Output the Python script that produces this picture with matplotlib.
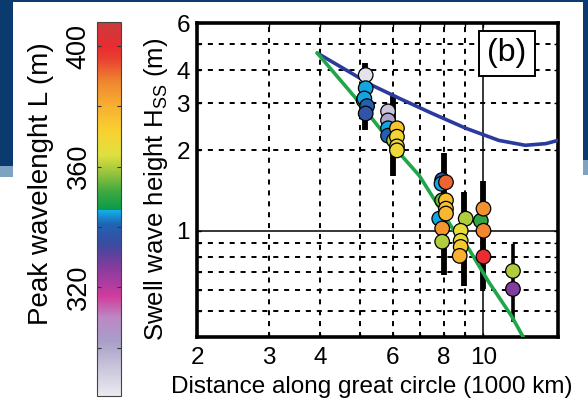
import numpy as np
import matplotlib
matplotlib.use('Agg')
import matplotlib.pyplot as plt
from matplotlib.colors import LinearSegmentedColormap, Normalize
from matplotlib.cm import ScalarMappable
from matplotlib.patches import Rectangle
from matplotlib.ticker import FixedLocator, FixedFormatter, NullFormatter

plt.rcParams['font.family'] = ['Liberation Sans', 'DejaVu Sans']
plt.rcParams['mathtext.fontset'] = 'custom'
plt.rcParams['mathtext.rm'] = 'Liberation Sans'
plt.rcParams['mathtext.it'] = 'Liberation Sans:italic'

# ---------------- data ----------------
# error bars per cluster (distance in 1000 km, Hss range in m)
bar_x = [5.15, 6.0, 8.0, 8.95, 10.0, 11.8]
bar_low = [2.38, 1.6, 0.68, 0.62, 0.605, 0.455]
bar_high = [4.25, 3.2, 1.95, 1.40, 1.53, 0.89]

# individual observations: distance, Hss, peak wavelength L
pt_x = [5.1, 5.16, 5.16, 5.12, 5.2, 5.16,
        5.85, 5.85, 5.85, 5.85, 6.05, 6.15, 6.15, 6.15, 6.15,
        7.93, 7.9, 8.1, 7.93, 8.1, 8.1, 7.8, 8.1, 7.93, 7.93,
        9.05, 8.8, 8.8, 8.8, 8.75,
        9.85, 10.0, 10.0, 10.0,
        11.8, 11.8]
pt_y = [3.08, 3.83, 3.42, 3.13, 2.93, 2.75,
        2.80, 2.59, 2.42, 2.27, 2.18, 2.42, 2.25, 2.07, 2.0,
        1.55, 1.50, 1.52, 1.30, 1.30, 1.21, 1.11, 1.16, 1.02, 0.91,
        1.11, 1.0, 0.917, 0.87, 0.805,
        1.09, 1.21, 1.0, 0.80,
        0.707, 0.605]
pt_L = [358, 286, 345, 345, 340, 337,
        293, 300, 345, 340, 360, 375, 370, 367, 368,
        338, 345, 392, 355, 376, 376, 345, 378, 385, 360,
        360, 366, 366, 374, 380,
        350, 386, 388, 400,
        360, 327]

# model curves
blue_x = [3.93, 4.85, 5.34, 6.24, 7.5, 9.06, 10.9, 12.65, 14.2, 15.2]
blue_y = [4.63, 3.83, 3.51, 3.13, 2.75, 2.42, 2.18, 2.09, 2.12, 2.18]
green_x = [3.93, 4.93, 6.24, 6.97, 8.62, 9.21, 10.3, 11.7, 12.5]
green_y = [4.63, 3.08, 1.95, 1.61, 0.96, 0.855, 0.643, 0.48, 0.40]

x_ticks = [2, 3, 4, 6, 8, 10]
x_ticklabels = ['2', '3', '4', '6', '8', '10']
y_ticks = [1, 2, 3, 4, 6]
y_ticklabels = ['1', '2', '3', '4', '6']
cb_ticks = [300, 320, 340, 360, 380, 400]
cb_ticklabels = ['', '320', '', '360', '', '400']

# ---------------- colormap ----------------
vmin, vmax = 284, 408
stops = [(284, '#ebebf0'), (295, '#c4bed8'), (302, '#a89ec8'), (310, '#bc88c4'),
         (317, '#d03c9c'), (322, '#a83ca0'), (328, '#7a3c9c'), (334, '#3c4aa0'),
         (341, '#1e64b4'), (345.8, '#10b4ec'), (345.8, '#0a9a4a'), (352, '#40aa40'),
         (358, '#98c43c'), (364, '#e0e040'), (372, '#f8d030'), (380, '#f8b030'),
         (388, '#f08830'), (396, '#e84030'), (400, '#e82c30'), (408, '#c83c3c')]
cmap = LinearSegmentedColormap.from_list(
    'wl', [((v - vmin) / (vmax - vmin), c) for v, c in stops], N=512)
norm = Normalize(vmin, vmax)

# ---------------- figure ----------------
W, H = 588, 403
fig = plt.figure(figsize=(W / 100, H / 100), dpi=100)
fig.patch.set_facecolor('white')

def px_rect(x0, y0, x1, y1, color):
    fig.add_artist(Rectangle((x0 / W, 1 - y1 / H), (x1 - x0) / W, (y1 - y0) / H,
                             transform=fig.transFigure, facecolor=color,
                             edgecolor='none', zorder=-10))

navy = '#0b3a6e'
light = '#7ea3c2'
px_rect(0, 0, W, 2, navy)
px_rect(0, 0, 12.5, 166, navy)
px_rect(0, 166, 12.5, 177, light)
px_rect(583, 0, W, 160, navy)
px_rect(583, 160, W, 175, light)

ax = fig.add_axes([197 / W, 1 - 337 / H, (558 - 197) / W, (337 - 23) / H])
ax.set_xscale('log')
ax.set_yscale('log')
ax.set_xlim(2, 15.2)
ax.set_ylim(0.4, 6)

# grid
dash = (0, (2.6, 3.0))
for gx in [3, 4, 5, 6, 7, 8, 9]:
    ax.axvline(gx, color='black', lw=1.4, ls=dash, zorder=1)
ax.axvline(10, color='black', lw=1.1, zorder=1)
for gy in [0.5, 0.6, 0.7, 0.8, 0.9, 2, 3, 4, 5]:
    ax.axhline(gy, color='black', lw=1.4, ls=dash, zorder=1)
ax.axhline(1, color='black', lw=1.1, zorder=1)

# error bars
ax.vlines(bar_x[:5], bar_low[:5], bar_high[:5], color='black', lw=4.2, zorder=2)
ax.vlines(bar_x[5:], bar_low[5:], bar_high[5:], color='black', lw=2.6, zorder=2)

# curves
ax.plot(blue_x, blue_y, color='#2b3a9e', lw=2.6, zorder=3, solid_capstyle='round')
ax.plot(green_x, green_y, color='#1fa64a', lw=2.6, zorder=3, solid_capstyle='round')

# observations
ax.scatter(pt_x, pt_y, c=pt_L, cmap=cmap, norm=norm, s=110,
           edgecolors='black', linewidths=0.9, zorder=4)

# ticks
ax.xaxis.set_major_locator(FixedLocator(x_ticks))
ax.xaxis.set_major_formatter(FixedFormatter(x_ticklabels))
ax.xaxis.set_minor_locator(FixedLocator([5, 7, 9]))
ax.xaxis.set_minor_formatter(NullFormatter())
ax.yaxis.set_major_locator(FixedLocator(y_ticks))
ax.yaxis.set_major_formatter(FixedFormatter(y_ticklabels))
ax.yaxis.set_minor_locator(FixedLocator([0.5, 0.6, 0.7, 0.8, 0.9, 5]))
ax.yaxis.set_minor_formatter(NullFormatter())
ax.tick_params(which='both', direction='in', top=True, right=True,
               length=3, width=1, labelsize=17.5)
ax.tick_params(axis='x', pad=7)
ax.tick_params(axis='y', pad=5)
for s in ax.spines.values():
    s.set_linewidth(2.6)

# (b) label
bx0, bx1 = (479 - 197) / 361, (535 - 197) / 361
by0, by1 = (337 - 76) / 314, (337 - 31) / 314
ax.add_patch(Rectangle((bx0, by0), bx1 - bx0, by1 - by0, transform=ax.transAxes,
                       facecolor='white', edgecolor='black', lw=1.4, zorder=6))
ax.text((bx0 + bx1) / 2, (by0 + by1) / 2, '(b)', transform=ax.transAxes,
        ha='center', va='center', fontsize=23, zorder=7)

# labels
fig.text(372 / W, 1 - 387 / H, 'Distance along great circle (1000 km)',
         ha='center', va='center', fontsize=17.5)
fig.text(156 / W, 1 - 189 / H, r'Swell wave height H$_{\mathrm{SS}}$ (m)',
         ha='center', va='center', rotation=90, fontsize=18.5)
fig.text(41 / W, 1 - 184 / H, 'Peak wavelenght L (m)',
         ha='center', va='center', rotation=90, fontsize=20)

# colorbar
cax = fig.add_axes([97 / W, 1 - 396 / H, 24 / W, 374 / H])
cb = fig.colorbar(ScalarMappable(norm=norm, cmap=cmap), cax=cax)
cb.outline.set_linewidth(0.8)
cb.outline.set_edgecolor('#444444')
cb.set_ticks(cb_ticks)
cb.set_ticklabels(cb_ticklabels)
cax.yaxis.set_ticks_position('both')
cax.tick_params(direction='in', length=3, width=0.8, color='#333333',
                labelleft=True, labelright=False, labelsize=19.5, pad=4)
for lab in cax.get_yticklabels():
    lab.set_rotation(90)
    lab.set_va('center')

fig.savefig('out.png', dpi=100)
